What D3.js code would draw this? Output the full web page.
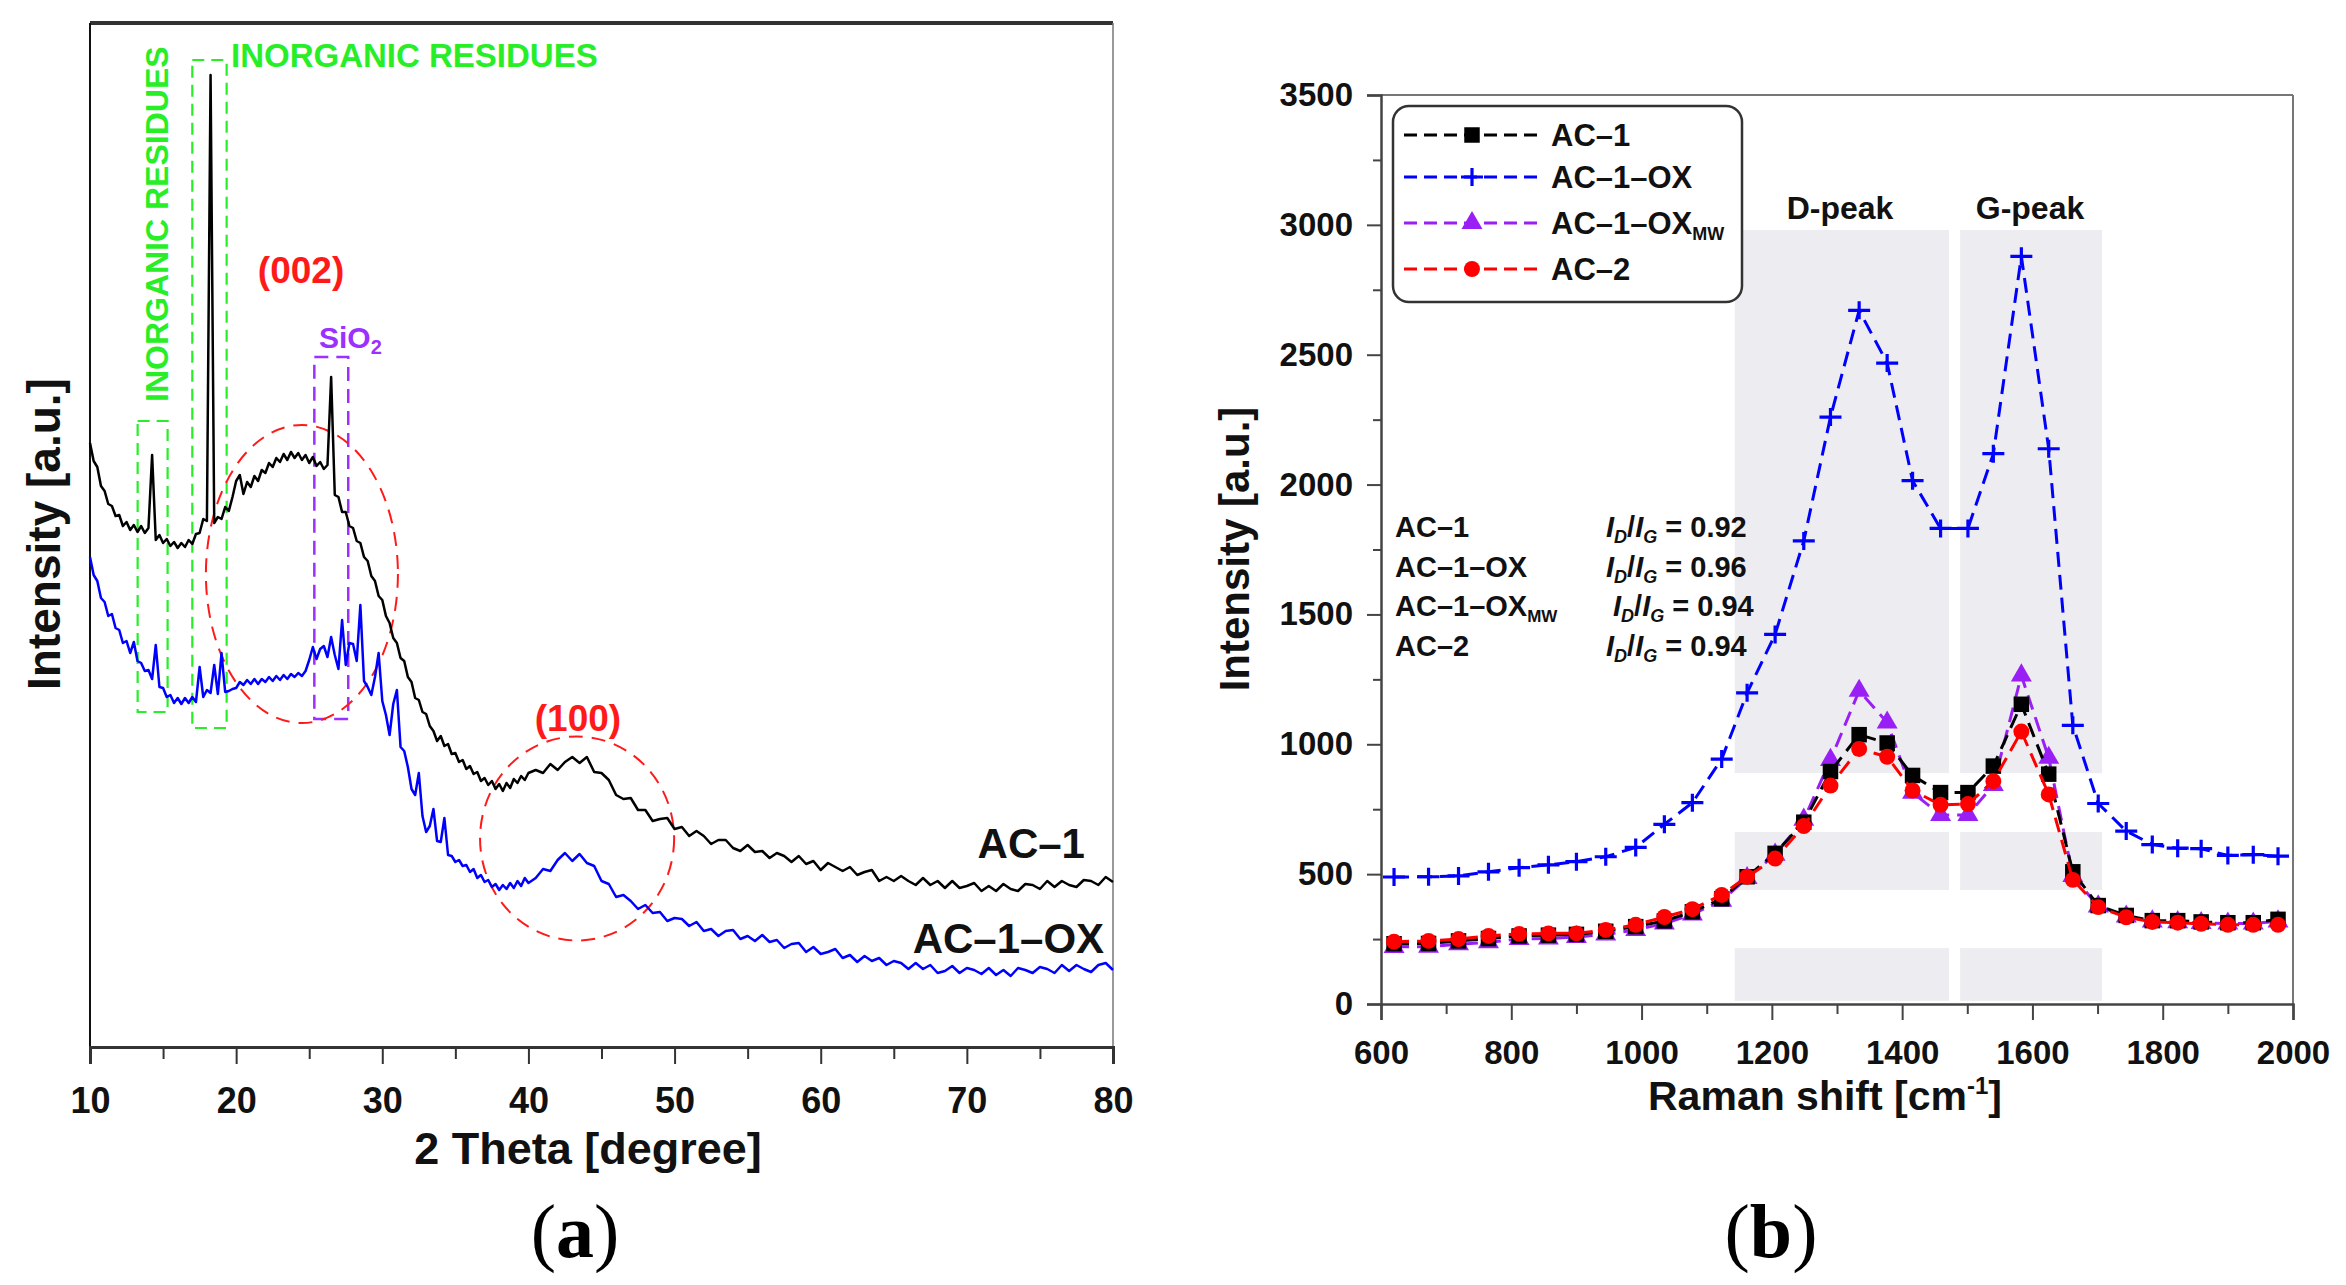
<!DOCTYPE html>
<html>
<head>
<meta charset="utf-8">
<script src="https://cdn.jsdelivr.net/npm/d3@7"></script>
<style>
  body { margin: 0; background: #fff; }
  svg text { font-family: "Liberation Sans", Arial, sans-serif; font-weight: bold; }
</style>
</head>
<body>
<svg id="chart" width="2346" height="1285"></svg>
<script>
// ---------- (a) XRD patterns, intensity in arbitrary units ----------
const thetaFine = [10,10.25,10.5,10.75,11,11.25,11.5,11.75,12,12.25,12.5,12.75,13,13.25,13.5,13.75,14,14.25,14.5,14.75,15,15.25,15.5,15.75,16,16.25,16.5,16.75,17,17.25,17.5,17.75,18,18.25,18.5,18.75,19,19.25,19.5,19.75,20,20.25,20.5,20.75,21,21.25,21.5,21.75,22,22.25,22.5,22.75,23,23.25,23.5,23.75,24,24.25,24.5,24.75,25,25.25,25.5,25.75,26,26.25,26.5,26.75,27,27.25,27.5,27.75,28,28.25,28.5,28.75,29,29.25,29.5,29.75,30,30.25,30.5,30.75,31,31.25,31.5,31.75,32,32.25,32.5,32.75,33,33.25,33.5,33.75,34,34.25,34.5,34.75,35,35.25,35.5,35.75,36,36.25,36.5,36.75,37,37.25,37.5,37.75,38,38.25,38.5,38.75,39,39.25,39.5,39.75,40];
const thetaCoarse = [40.5,41,41.5,42,42.5,43,43.5,44,44.5,45,45.5,46,46.5,47,47.5,48,48.5,49,49.5,50,50.5,51,51.5,52,52.5,53,53.5,54,54.5,55,55.5,56,56.5,57,57.5,58,58.5,59,59.5,60,60.5,61,61.5,62,62.5,63,63.5,64,64.5,65,65.5,66,66.5,67,67.5,68,68.5,69,69.5,70,70.5,71,71.5,72,72.5,73,73.5,74,74.5,75,75.5,76,76.5,77,77.5,78,78.5,79,79.5,80];
const theta = thetaFine.concat(thetaCoarse);

const xrdAC1 = [
  604,586,580,561,556,543,541,531,532,
  521,525,517,522,515,521,514,519,
  592,
  507,512,504,508,501,505,499,
  504,500,507,503,513,514,528,526,
  972,
  524,530,528,540,536,550,
  566,572,553,565,560,
  571,566,577,574,584,580,
  589,585,593,587,595,589,
  594,587,592,584,590,581,585,578,582,
  670,
  552,550,535,535,521,519,
  506,504,490,486,471,466,
  451,447,431,424,409,404,
  389,386,370,365,349,347,
  335,333,321,316,306,311,
  301,303,293,294,285,287,
  278,281,273,275,266,269,
  262,266,258,263,256,264,
  259,268,264,271,267,274,
  277,274,283,277,285,290,284,290,
  275,274,267,252,248,249,
  237,237,226,228,229,218,
  220,211,216,211,203,207,
  207,199,196,202,195,196,
  189,194,191,185,191,183,
  186,177,184,180,176,180,
  172,175,177,166,170,166,
  171,166,162,169,162,166,
  159,166,159,161,164,156,
  161,156,163,158,156,163,
  162,158,166,160,166,162,
  160,167,166,162,170,165
];
const xrdAC1OX = [
  490,472,466,449,445,431,433,419,417,
  404,406,394,405,386,384,376,377,
  368,
  402,360,359,350,352,344,349,
  343,349,344,350,345,380,350,357,
  354,
  382,353,394,355,356,358,
  359,365,362,367,363,
  368,363,368,365,370,366,
  371,367,372,368,373,370,
  374,371,376,387,400,388,398,401,390,
  410,
  392,378,427,382,404,403,
  386,442,366,360,352,370,
  394,346,332,312,343,357,
  300,296,280,258,252,274,
  231,215,221,238,206,205,
  229,192,191,185,187,181,
  182,175,178,169,172,165,
  167,160,163,157,162,158,
  164,159,166,161,169,164,
  169,178,176,187,194,186,193,184,
  181,166,163,150,152,146,
  138,142,134,135,126,129,
  128,121,125,116,118,111,
  116,117,108,111,106,112,
  105,107,99,103,104,95,
  100,93,95,98,89,92,
  85,91,86,89,82,86,
  84,78,84,78,82,74,
  76,81,74,79,77,73,
  79,72,77,71,79,77,
  74,80,78,74,82,76,
  82,78,75,82,84,77
];
const thetaTicks = [10, 20, 30, 40, 50, 60, 70, 80];
const thetaMinor = [15, 25, 35, 45, 55, 65, 75];

// ---------- (b) Raman spectra ----------
const raman = [620,673,719,765,812,857,900,945,991,1035,1078,1123,1162,1205,1249,1290,1334,1377,1416,1459,1501,1540,1583,1625,1662,1701,1744,1784,1823,1859,1900,1939,1977];
const ramanAC1 = [232,233,243,252,262,265,268,280,298,320,355,405,490,580,700,895,1037,1005,880,814,814,916,1154,885,509,379,341,321,321,316,313,313,326];
const ramanAC1OX = [489,490,493,509,525,536,548,567,603,692,775,943,1198,1423,1783,2260,2671,2468,2015,1831,1831,2119,2879,2138,1073,772,666,614,600,598,572,575,569];
const ramanAC1OXMW = [220,221,230,238,250,252,258,268,285,310,345,398,485,575,710,940,1206,1084,814,728,728,843,1265,948,493,376,337,318,315,312,310,310,318];
const ramanAC2 = [240,243,250,262,270,272,272,285,305,335,365,420,490,560,685,841,982,952,822,767,770,858,1049,807,478,373,334,316,313,309,305,305,305];
const ramanTicks = [600, 800, 1000, 1200, 1400, 1600, 1800, 2000];
const ramanMinor = [700, 900, 1100, 1300, 1500, 1700, 1900];
const intensityTicks = [0, 500, 1000, 1500, 2000, 2500, 3000, 3500];
const intensityMinor = [250, 750, 1250, 1750, 2250, 2750, 3250];
const peakRegions = [[1143, 1472], [1489, 1707]];
const peakBands = [[2980, 889], [662, 439], [215, 12]];
const ratioNames = ["AC–1", "AC–1–OX", "AC–1–OX", "AC–2"];
const ratioValues = ["0.92", "0.96", "0.94", "0.94"];

const svg = d3.select("#chart");

// ================= Panel (a) =================
const ax = d3.scaleLinear().domain([10, 80]).range([90, 1113]);
const ay = d3.scaleLinear().domain([0, 1024]).range([1047, 23]);
const gA = svg.append("g");

// frame
gA.append("line").attr("x1", 90).attr("x2", 1113).attr("y1", 23).attr("y2", 23)
  .attr("stroke", "#333").attr("stroke-width", 4);
gA.append("line").attr("x1", 1113).attr("x2", 1113).attr("y1", 23).attr("y2", 1047)
  .attr("stroke", "#777").attr("stroke-width", 1.5);
gA.append("line").attr("x1", 90).attr("x2", 90).attr("y1", 23).attr("y2", 1047)
  .attr("stroke", "#111").attr("stroke-width", 2);

// x axis
const axA = gA.append("g").attr("transform", "translate(0,1047)")
  .call(d3.axisBottom(ax).tickValues(thetaTicks).tickSize(17).tickFormat(d3.format("d")));
axA.select(".domain").attr("stroke", "#333").attr("stroke-width", 3);
axA.selectAll(".tick line").attr("stroke", "#333").attr("stroke-width", 2);
axA.selectAll("text").attr("y", 66).attr("dy", null).attr("font-size", 36).attr("fill", "#111");
const axAm = gA.append("g").attr("transform", "translate(0,1047)")
  .call(d3.axisBottom(ax).tickValues(thetaMinor).tickSize(12).tickFormat(""));
axAm.select(".domain").remove();
axAm.selectAll(".tick line").attr("stroke", "#333").attr("stroke-width", 2);

gA.append("text").attr("x", 588).attr("y", 1164).attr("text-anchor", "middle")
  .attr("font-size", 45).attr("fill", "#111").text("2 Theta [degree]");
gA.append("text").attr("transform", "translate(60,534) rotate(-90)").attr("text-anchor", "middle")
  .attr("font-size", 46).attr("fill", "#111").text("Intensity [a.u.]");

// annotations
const green = "#27ee27", purple = "#9b30ff", red = "#ff1a1a";
[[13.26, 15.31, 626, 335], [17.0, 19.35, 987, 319]].forEach(r => {
  gA.append("rect").attr("x", ax(r[0])).attr("y", ay(r[2]))
    .attr("width", ax(r[1]) - ax(r[0])).attr("height", ay(r[3]) - ay(r[2]))
    .attr("fill", "none").attr("stroke", green).attr("stroke-width", 2.2)
    .attr("stroke-dasharray", "12,7");
});
gA.append("rect").attr("x", ax(25.35)).attr("y", ay(690))
  .attr("width", ax(27.67) - ax(25.35)).attr("height", ay(328) - ay(690))
  .attr("fill", "none").attr("stroke", purple).attr("stroke-width", 2.5)
  .attr("stroke-dasharray", "14,8");
[[24.5, 473, 6.57, 149], [43.33, 208.5, 6.64, 102]].forEach(e => {
  gA.append("ellipse").attr("cx", ax(e[0])).attr("cy", ay(e[1]))
    .attr("rx", ax(10 + e[2]) - ax(10)).attr("ry", e[3])
    .attr("fill", "none").attr("stroke", red).attr("stroke-width", 2)
    .attr("stroke-dasharray", "14,9");
});

// curves
const lineA = d3.line().x((d, i) => ax(theta[i])).y(d => ay(d));
gA.append("path").datum(xrdAC1OX).attr("d", lineA).attr("fill", "none")
  .attr("stroke", "#0000ff").attr("stroke-width", 2.5).attr("stroke-linejoin", "round");
gA.append("path").datum(xrdAC1).attr("d", lineA).attr("fill", "none")
  .attr("stroke", "#000").attr("stroke-width", 2.5).attr("stroke-linejoin", "round");

// labels
gA.append("text").attr("transform", `translate(${ax(15.34)},${ay(645)}) rotate(-90)`)
  .attr("font-size", 32).attr("fill", green).text("INORGANIC RESIDUES");
gA.append("text").attr("x", ax(19.65)).attr("y", ay(980))
  .attr("font-size", 33).attr("fill", green).text("INORGANIC RESIDUES");
const sio2 = gA.append("text").attr("x", ax(25.67)).attr("y", ay(699))
  .attr("font-size", 30).attr("fill", purple);
sio2.append("tspan").text("SiO");
sio2.append("tspan").attr("font-size", 20).attr("dy", 6).text("2");
gA.append("text").attr("x", ax(24.44)).attr("y", ay(764)).attr("text-anchor", "middle")
  .attr("font-size", 37).attr("fill", red).text("(002)");
gA.append("text").attr("x", ax(43.39)).attr("y", ay(316)).attr("text-anchor", "middle")
  .attr("font-size", 37).attr("fill", red).text("(100)");
gA.append("text").attr("x", ax(78.08)).attr("y", ay(189)).attr("text-anchor", "end")
  .attr("font-size", 42).attr("fill", "#111").text("AC–1");
gA.append("text").attr("x", ax(79.39)).attr("y", ay(94)).attr("text-anchor", "end")
  .attr("font-size", 42).attr("fill", "#111").text("AC–1–OX");

// ================= Panel (b) =================
const bx = d3.scaleLinear().domain([600, 2000]).range([1381, 2293]);
const by = d3.scaleLinear().domain([0, 3500]).range([1004, 95]);
const gB = svg.append("g");

// shaded D / G regions
peakRegions.forEach(r => {
  peakBands.forEach(b => {
    gB.append("rect").attr("x", bx(r[0])).attr("width", bx(r[1]) - bx(r[0]))
      .attr("y", by(b[0])).attr("height", by(b[1]) - by(b[0]))
      .attr("fill", "#ededf1");
  });
});

// frame
gB.append("line").attr("x1", 1381).attr("x2", 2293).attr("y1", 95).attr("y2", 95)
  .attr("stroke", "#777").attr("stroke-width", 2);
gB.append("line").attr("x1", 2293).attr("x2", 2293).attr("y1", 95).attr("y2", 1004)
  .attr("stroke", "#777").attr("stroke-width", 2);

const bxAxis = gB.append("g").attr("transform", "translate(0,1004)")
  .call(d3.axisBottom(bx).tickValues(ramanTicks).tickSize(16).tickFormat(d3.format("d")));
bxAxis.select(".domain").attr("stroke", "#444").attr("stroke-width", 2.5);
bxAxis.selectAll(".tick line").attr("stroke", "#444").attr("stroke-width", 2);
bxAxis.selectAll("text").attr("y", 60).attr("dy", null).attr("font-size", 33).attr("fill", "#111");
const bxMinor = gB.append("g").attr("transform", "translate(0,1004)")
  .call(d3.axisBottom(bx).tickValues(ramanMinor).tickSize(10).tickFormat(""));
bxMinor.select(".domain").remove();
bxMinor.selectAll(".tick line").attr("stroke", "#444").attr("stroke-width", 2);

const byAxis = gB.append("g").attr("transform", "translate(1381,0)")
  .call(d3.axisLeft(by).tickValues(intensityTicks).tickSize(14).tickFormat(d3.format("d")));
byAxis.select(".domain").attr("stroke", "#444").attr("stroke-width", 2.5);
byAxis.selectAll(".tick line").attr("stroke", "#444").attr("stroke-width", 2);
byAxis.selectAll("text").attr("x", -28).attr("font-size", 33).attr("fill", "#111");
const byMinor = gB.append("g").attr("transform", "translate(1381,0)")
  .call(d3.axisLeft(by).tickValues(intensityMinor).tickSize(8).tickFormat(""));
byMinor.select(".domain").remove();
byMinor.selectAll(".tick line").attr("stroke", "#444").attr("stroke-width", 2);

const xt = gB.append("text").attr("x", 1825).attr("y", 1110).attr("text-anchor", "middle")
  .attr("font-size", 41).attr("fill", "#111");
xt.append("tspan").text("Raman shift [cm");
xt.append("tspan").attr("font-size", 24).attr("dy", -16).text("-1");
xt.append("tspan").attr("dy", 16).text("]");
gB.append("text").attr("transform", "translate(1249,549) rotate(-90)").attr("text-anchor", "middle")
  .attr("font-size", 42).attr("fill", "#111").text("Intensity [a.u.]");

gB.append("text").attr("x", 1840).attr("y", 219).attr("text-anchor", "middle")
  .attr("font-size", 32).attr("fill", "#111").text("D-peak");
gB.append("text").attr("x", 2030).attr("y", 219).attr("text-anchor", "middle")
  .attr("font-size", 32).attr("fill", "#111").text("G-peak");

// series
const seriesB = [
  { name: "AC–1–OX", values: ramanAC1OX, color: "#0000ff", marker: "plus" },
  { name: "AC–1–OX", sub: "MW", values: ramanAC1OXMW, color: "#9a1ff5", marker: "triangle" },
  { name: "AC–1", values: ramanAC1, color: "#000", marker: "square" },
  { name: "AC–2", values: ramanAC2, color: "#ff0000", marker: "circle" }
];
const legendOrder = [2, 0, 1, 3];

function drawMarker(g, type, color) {
  if (type === "plus") {
    g.append("path").attr("d", "M-11,0H11M0,-9V9").attr("stroke", color)
      .attr("stroke-width", 3.2).attr("fill", "none");
  } else {
    const sym = { square: d3.symbolSquare, triangle: d3.symbolTriangle, circle: d3.symbolCircle }[type];
    const size = { square: 240, triangle: 190, circle: 200 }[type];
    g.append("path").attr("d", d3.symbol(sym, size)()).attr("fill", color);
  }
}

const lineB = d3.line().x((d, i) => bx(raman[i])).y(d => by(d));
seriesB.forEach(s => {
  gB.append("path").datum(s.values).attr("d", lineB).attr("fill", "none")
    .attr("stroke", s.color).attr("stroke-width", 3).attr("stroke-dasharray", "15,8");
  s.values.forEach((v, i) => {
    const m = gB.append("g").attr("transform", `translate(${bx(raman[i])},${by(v)})`);
    drawMarker(m, s.marker, s.color);
  });
});

// legend
gB.append("rect").attr("x", 1393).attr("y", 106).attr("width", 349).attr("height", 196)
  .attr("rx", 16).attr("fill", "#fff").attr("stroke", "#333").attr("stroke-width", 2.5);
const legendY = [135, 177, 223, 269];
legendOrder.forEach((k, j) => {
  const s = seriesB[k];
  const y = legendY[j];
  gB.append("line").attr("x1", 1404).attr("x2", 1540).attr("y1", y).attr("y2", y)
    .attr("stroke", s.color).attr("stroke-width", 3).attr("stroke-dasharray", "13,7");
  drawMarker(gB.append("g").attr("transform", `translate(1472,${y})`), s.marker, s.color);
  const t = gB.append("text").attr("x", 1551).attr("y", y + 11).attr("font-size", 31).attr("fill", "#111");
  t.append("tspan").text(s.name);
  if (s.sub) t.append("tspan").attr("font-size", 18).attr("dy", 6).text(s.sub);
});

// I_D / I_G ratios
const ratioY = [537, 577, 616, 656];
ratioNames.forEach((n, i) => {
  const t = gB.append("text").attr("x", 1395).attr("y", ratioY[i]).attr("font-size", 29).attr("fill", "#111");
  t.append("tspan").text(n);
  if (i === 2) t.append("tspan").attr("font-size", 17).attr("dy", 6).text("MW");
  const r = gB.append("text").attr("x", i === 2 ? 1613 : 1606).attr("y", ratioY[i])
    .attr("font-size", 29).attr("fill", "#111");
  r.append("tspan").attr("font-style", "italic").text("I");
  r.append("tspan").attr("font-style", "italic").attr("font-size", 18).attr("dy", 6).text("D");
  r.append("tspan").attr("dy", -6).text("/");
  r.append("tspan").attr("font-style", "italic").text("I");
  r.append("tspan").attr("font-style", "italic").attr("font-size", 18).attr("dy", 6).text("G");
  r.append("tspan").attr("dy", -6).text(" = " + ratioValues[i]);
});

// panel captions
[["a", 575], ["b", 1771]].forEach(([c, x]) => {
  const t = svg.append("text").attr("x", x).attr("y", 1257).attr("text-anchor", "middle")
    .attr("font-size", 76).attr("fill", "#000")
    .style("font-family", '"Liberation Serif", "Times New Roman", serif').style("font-weight", "normal");
  t.append("tspan").text("(");
  t.append("tspan").style("font-weight", "bold").text(c);
  t.append("tspan").text(")");
});
</script>
</body>
</html>
